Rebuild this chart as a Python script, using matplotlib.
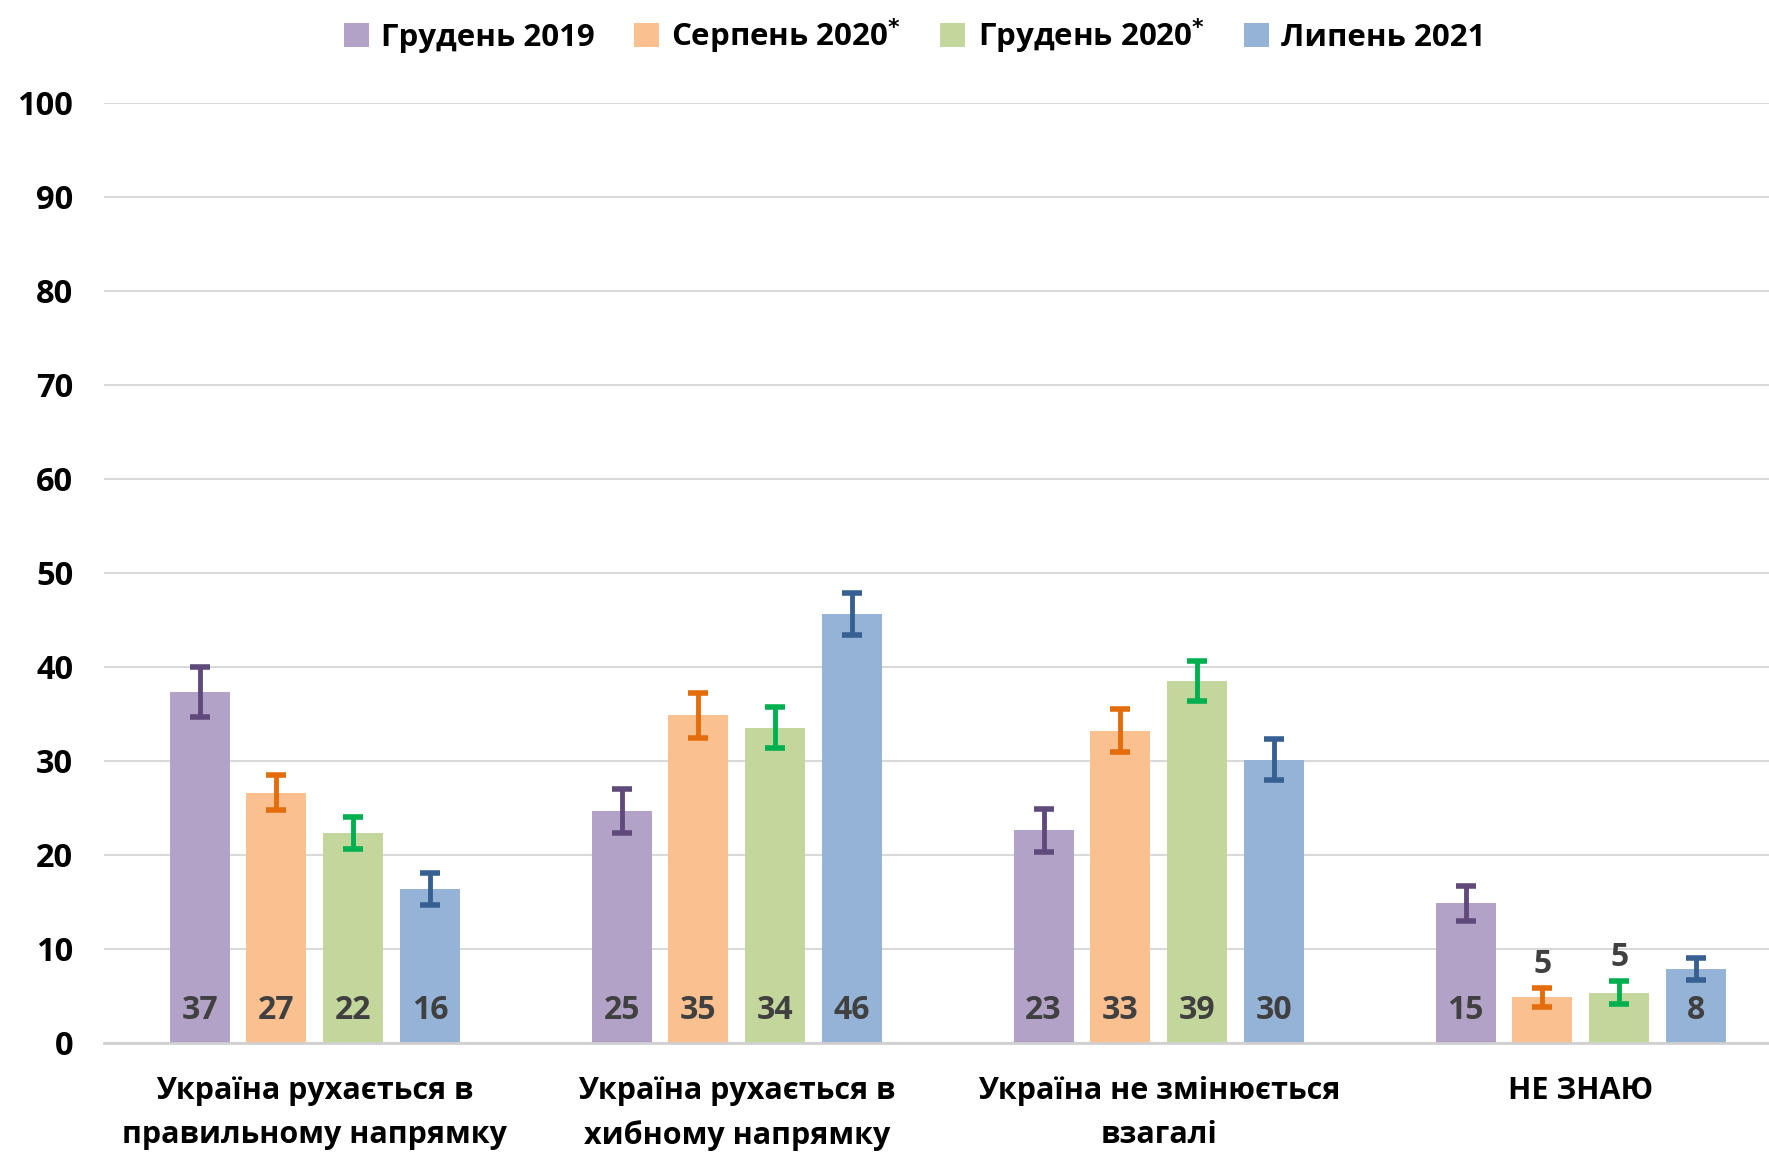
import numpy as np
import matplotlib
matplotlib.use('Agg')
import matplotlib.pyplot as plt

plt.rcParams['font.family'] = ['Open Sans', 'DejaVu Sans']
plt.rcParams['font.weight'] = 'bold'

# data
categories = ['Україна рухається в\nправильному напрямку',
              'Україна рухається в\nхибному напрямку',
              'Україна не змінюється\nвзагалі',
              'НЕ ЗНАЮ']
series = ['Грудень 2019', 'Серпень 2020$^{*}$', 'Грудень 2020$^{*}$', 'Липень 2021']

dec2019 = [37.3, 24.6, 22.6, 14.8]
aug2020 = [26.6, 34.8, 33.2, 4.8]
dec2020 = [22.3, 33.5, 38.5, 5.3]
jul2021 = [16.3, 45.6, 30.1, 7.8]

dec2019_err = [2.7, 2.35, 2.3, 1.9]
aug2020_err = [1.9, 2.35, 2.3, 1.05]
dec2020_err = [1.7, 2.2, 2.15, 1.25]
jul2021_err = [1.7, 2.25, 2.15, 1.2]

dec2019_lbl = [37, 25, 23, 15]
aug2020_lbl = [27, 35, 33, 5]
dec2020_lbl = [22, 34, 39, 5]
jul2021_lbl = [16, 46, 30, 8]

values = [dec2019, aug2020, dec2020, jul2021]
errors = [dec2019_err, aug2020_err, dec2020_err, jul2021_err]
labels = [dec2019_lbl, aug2020_lbl, dec2020_lbl, jul2021_lbl]

bar_colors = ['#B3A2C7', '#FAC090', '#C3D69B', '#95B3D7']
err_colors = ['#604A7B', '#E46C0A', '#00B050', '#366092']

fig = plt.figure(figsize=(17.69, 11.55), dpi=100)
ax = fig.add_axes([0.0587, 0.0974, 0.9413, 0.8136])

x = np.arange(len(categories))
pitch = 0.182
width = 0.142

for i in range(len(series)):
    xs = x + (i - 1.5) * pitch
    ax.bar(xs, values[i], width, color=bar_colors[i], label=series[i], zorder=2)
    ax.errorbar(xs, values[i], yerr=errors[i], fmt='none', ecolor=err_colors[i],
                elinewidth=3.5, capsize=7, capthick=4, zorder=3)
    for xx, v, e, lab in zip(xs, values[i], errors[i], labels[i]):
        if v < 7:
            ax.text(xx, v + e + 0.7, str(lab), ha='center', va='bottom',
                    fontsize=23, fontweight='bold', color='#404040', zorder=4)
        else:
            ax.text(xx, 3.4, str(lab), ha='center', va='center',
                    fontsize=23, fontweight='bold', color='#404040', zorder=4)

ax.set_xlim(-0.5, 3.446)
ax.set_ylim(0, 100)
ax.set_yticks(range(0, 101, 10))
ax.yaxis.grid(True, color='#D9D9D9', linewidth=1.5, zorder=0)
ax.set_axisbelow(True)
for s in ['top', 'right', 'left']:
    ax.spines[s].set_visible(False)
ax.spines['bottom'].set_color('#D0D0D0')
ax.spines['bottom'].set_linewidth(2)

ax.set_xticks(x)
ax.set_xticklabels(categories, fontsize=22, fontweight='bold', linespacing=1.6)
ax.tick_params(axis='x', length=0, pad=24)
ax.tick_params(axis='y', length=0, pad=22, labelsize=23.5)
for t in ax.get_yticklabels():
    t.set_fontweight('bold')

ax.legend(loc='center', bbox_to_anchor=(0.517, 0.969), bbox_transform=fig.transFigure,
          ncol=4, frameon=False, handlelength=0.8, handleheight=0.8,
          handletextpad=0.4, columnspacing=1.25, prop={'weight': 'bold', 'size': 22.5})

fig.savefig('out.png', dpi=100)
